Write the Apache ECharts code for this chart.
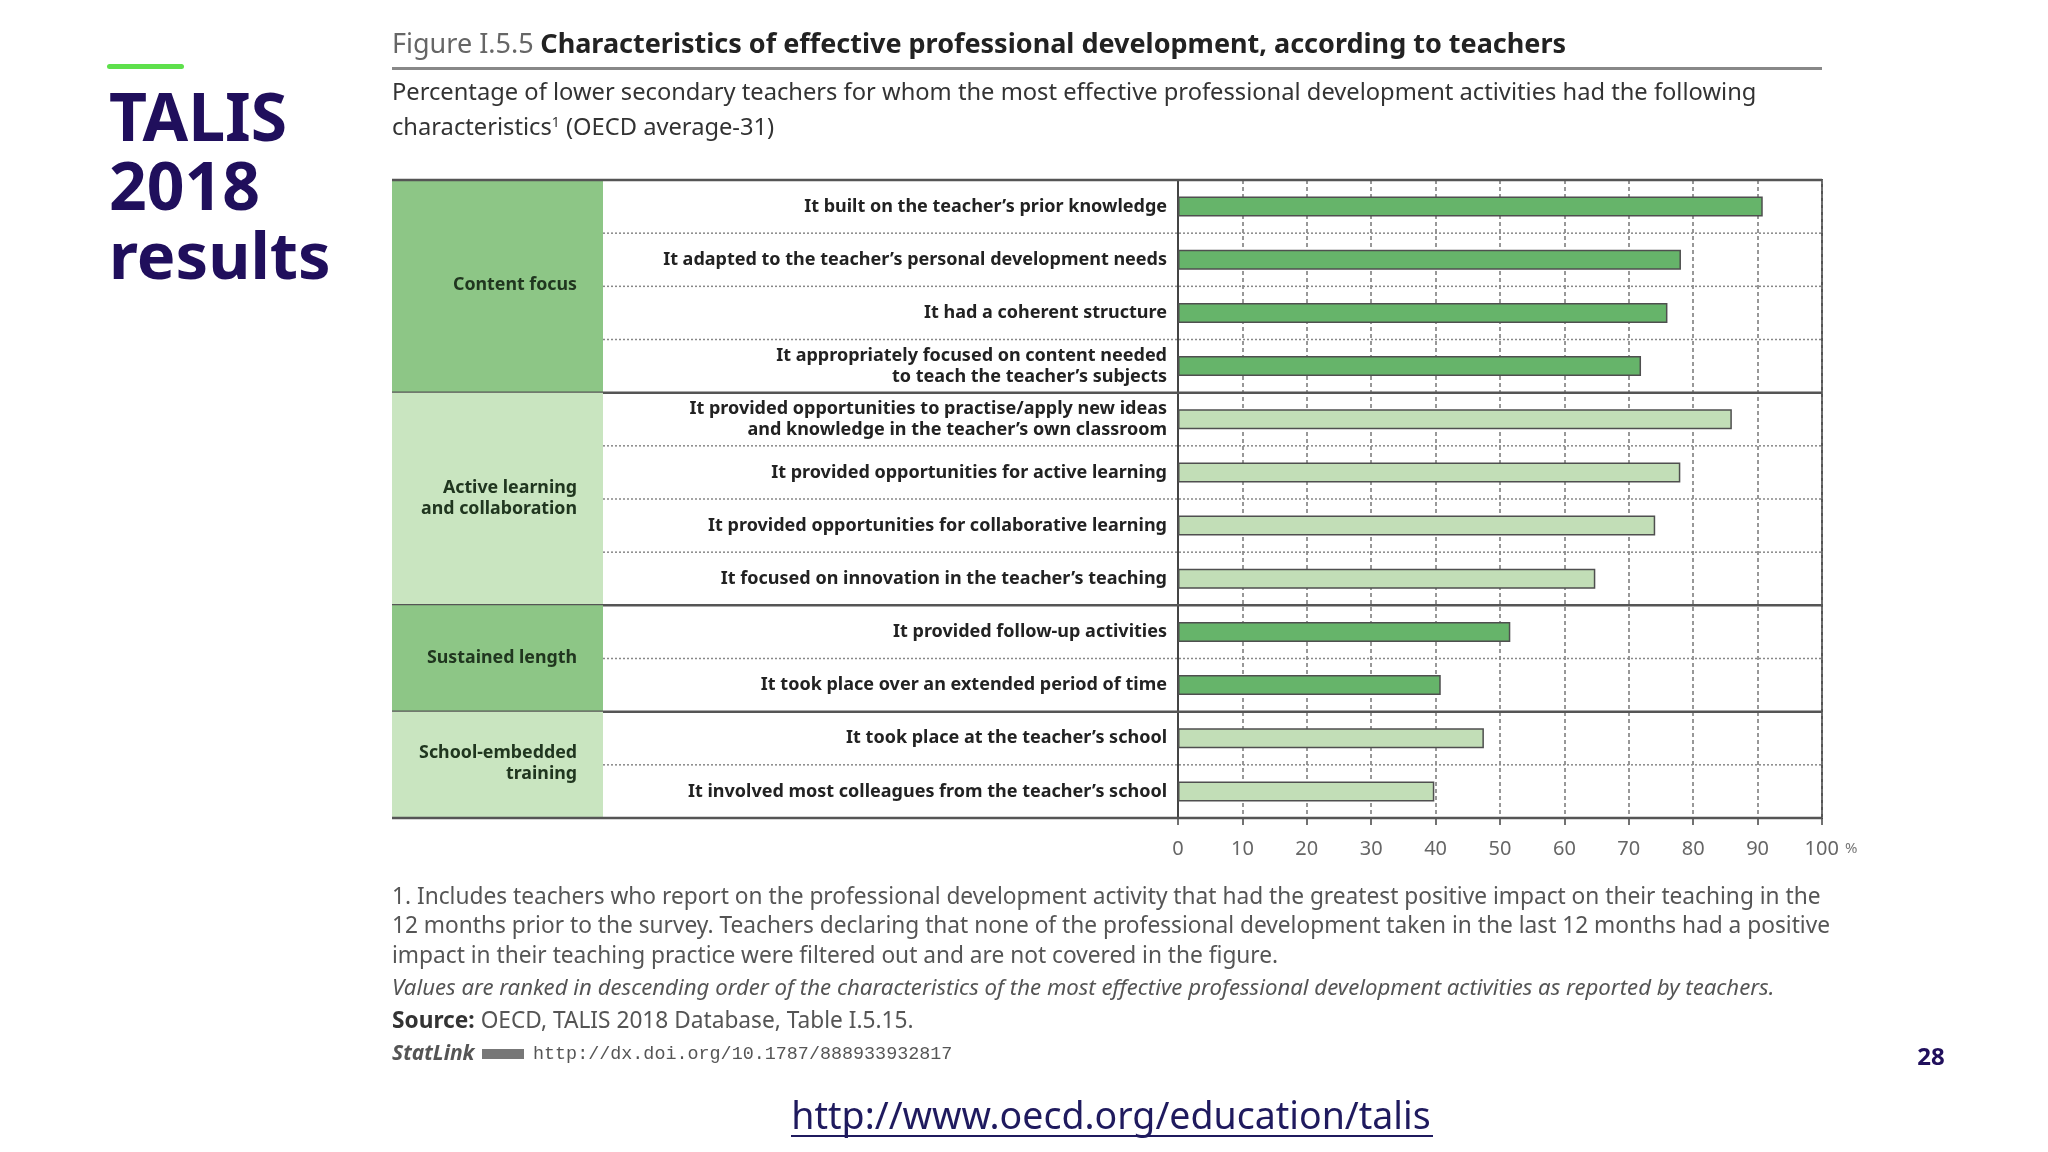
<!DOCTYPE html>
<html>
<head>
<meta charset="utf-8">
<script src="https://cdn.jsdelivr.net/npm/echarts@6/dist/echarts.min.js"></script>
<style>
html,body{margin:0;padding:0;background:#fff;}
#c{width:2048px;height:1152px;}
</style>
</head>
<body>
<div id="c"></div>
<script>
// ---- data ----
const categories = [
  'It built on the teacher’s prior knowledge',
  'It adapted to the teacher’s personal development needs',
  'It had a coherent structure',
  'It appropriately focused on content needed\nto teach the teacher’s subjects',
  'It provided opportunities to practise/apply new ideas\nand knowledge in the teacher’s own classroom',
  'It provided opportunities for active learning',
  'It provided opportunities for collaborative learning',
  'It focused on innovation in the teacher’s teaching',
  'It provided follow-up activities',
  'It took place over an extended period of time',
  'It took place at the teacher’s school',
  'It involved most colleagues from the teacher’s school'
];
const values = [90.8, 78.1, 76.0, 71.9, 86.0, 78.0, 74.1, 64.8, 51.6, 40.8, 47.5, 39.8];
const groupNames = ['Content focus', 'Active learning\nand collaboration', 'Sustained length', 'School-embedded\ntraining'];
const groupSizes = [4, 4, 2, 2];
const groupShades = ['dark', 'light', 'dark', 'light'];
const xTicks = [0, 10, 20, 30, 40, 50, 60, 70, 80, 90, 100];

// ---- styles ----
const FS = '"Noto Sans",sans-serif';
const panelColor = {dark: '#8dc686', light: '#c9e5c0'};
const barColor = {dark: '#66b46a', light: '#c2deb7'};
const labelColW = 575;
const panelW = 211;

const catShade = [];
groupSizes.forEach((n, i) => { for (let k = 0; k < n; k++) catShade.push(groupShades[i]); });
let st = 0;
const groupData = groupSizes.map((n, i) => { const d = [0, st, n, i]; st += n; return d; });

const chart = echarts.init(document.getElementById('c'), null, {renderer: 'canvas', width: 2048, height: 1152});

function renderGroup(params, api) {
  const start = api.value(1), n = api.value(2), gi = api.value(3);
  const band = api.size([0, 1])[1];
  const c0 = api.coord([0, start]);
  const x0 = c0[0];
  const x100 = api.coord([100, start])[0];
  const yTop = c0[1] - band / 2;
  const yBot = yTop + n * band;
  const panelX = x0 - labelColW - panelW;
  const children = [
    {type: 'rect', shape: {x: panelX, y: yTop, width: panelW, height: yBot - yTop},
      style: {fill: panelColor[groupShades[gi]]}},
    {type: 'text', style: {text: groupNames[gi], x: panelX + panelW - 26, y: (yTop + yBot) / 2 - 1,
      align: 'right', verticalAlign: 'middle', fontFamily: FS, fontSize: 17.8, fontWeight: 'bold',
      lineHeight: 21, fill: '#20361f'}},
    {type: 'line', shape: {x1: panelX, y1: yBot, x2: x100, y2: yBot},
      style: {stroke: '#555', lineWidth: 2.5}}
  ];
  if (start === 0) {
    children.push({type: 'line', shape: {x1: panelX, y1: yTop, x2: x100, y2: yTop},
      style: {stroke: '#555', lineWidth: 2.5}});
  }
  for (let k = 1; k < n; k++) {
    const y = yTop + k * band;
    children.push({type: 'line', shape: {x1: x0 - labelColW, y1: y, x2: x100, y2: y},
      style: {stroke: '#888', lineWidth: 1.5, lineDash: [2, 2]}});
  }
  return {type: 'group', children};
}

const option = {
  animation: false,
  backgroundColor: '#ffffff',
  grid: {left: 1178, right: 226, top: 180, bottom: 334, show: true, borderColor: '#555', borderWidth: 2},
  xAxis: {
    type: 'value', min: 0, max: 100, interval: 10,
    axisLine: {show: false},
    axisTick: {show: true, length: 7, lineStyle: {color: '#444', width: 1.5}},
    splitLine: {show: true, lineStyle: {color: '#777', width: 1.5, type: [4, 3]}},
    axisLabel: {
      margin: 21, color: '#666', fontFamily: FS, fontSize: 20,
      formatter: v => v === 100 ? '{n|100}{p|%}' : String(v),
      rich: {n: {fontFamily: FS, fontSize: 20, color: '#666', padding: [0, 0, 0, 18]},
             p: {fontFamily: FS, fontSize: 15, color: '#777', padding: [0, 0, 0, 6]}}
    }
  },
  yAxis: {
    type: 'category', data: categories, inverse: true,
    axisLine: {show: true, lineStyle: {color: '#444', width: 2}},
    axisTick: {show: false},
    splitLine: {show: false},
    axisLabel: {margin: 11, color: '#222', fontFamily: FS, fontSize: 18, fontWeight: 'bold',
      lineHeight: 21, align: 'right'}
  },
  series: [
    {type: 'custom', clip: false, z: 1, renderItem: renderGroup, encode: {x: 0, y: 1}, data: groupData, silent: true},
    {type: 'bar', z: 3, barWidth: 20,
      data: values.map((v, i) => ({value: v, itemStyle: {color: barColor[catShade[i]]}})),
      itemStyle: {borderColor: '#4f4f4f', borderWidth: 1.5}}
  ],
  graphic: [
    {type: 'rect', shape: {x: 107, y: 64, width: 77, height: 5, r: 2.5}, style: {fill: '#5ee04c'}},
    {type: 'text', x: 109, y: 122, style: {text: 'TALIS', fontFamily: FS, fontSize: 66, fontWeight: 'bold', fill: '#200f5c', verticalAlign: 'middle'}},
    {type: 'text', x: 109, y: 191, style: {text: '2018', fontFamily: FS, fontSize: 66, fontWeight: 'bold', fill: '#200f5c', verticalAlign: 'middle'}},
    {type: 'text', x: 109, y: 260, style: {text: 'results', fontFamily: FS, fontSize: 65, fontWeight: 'bold', fill: '#200f5c', verticalAlign: 'middle'}},

    {type: 'text', x: 392, y: 45.5, style: {
      text: '{a|Figure I.5.5}  {b|Characteristics of effective professional development, according to teachers}',
      verticalAlign: 'middle',
      rich: {a: {fontFamily: FS, fontSize: 27, fill: '#666', color: '#666'},
             b: {fontFamily: FS, fontSize: 27, fontWeight: 'bold', fill: '#222', color: '#222'}}}},
    {type: 'line', shape: {x1: 392, y1: 68.5, x2: 1822, y2: 68.5}, style: {stroke: '#888', lineWidth: 3}},
    {type: 'text', x: 392, y: 93.5, style: {text: 'Percentage of lower secondary teachers for whom the most effective professional development activities had the following',
      fontFamily: FS, fontSize: 23.7, fill: '#333', verticalAlign: 'middle'}},
    {type: 'text', x: 392, y: 128.5, style: {text: '{a|characteristics}{s|1}{a| (OECD average-31)}', verticalAlign: 'middle',
      rich: {a: {fontFamily: FS, fontSize: 23.7, fill: '#333', color: '#333'},
             s: {fontFamily: FS, fontSize: 14, fill: '#333', color: '#333', verticalAlign: 'top', padding: [0, 0, 10, 0]}}}},

    {type: 'text', x: 392, y: 897.5, style: {text: '1. Includes teachers who report on the professional development activity that had the greatest positive impact on their teaching in the',
      fontFamily: FS, fontSize: 22.7, fill: '#555', verticalAlign: 'middle'}},
    {type: 'text', x: 392, y: 926.5, style: {text: '12 months prior to the survey. Teachers declaring that none of the professional development taken in the last 12 months had a positive',
      fontFamily: FS, fontSize: 22.7, fill: '#555', verticalAlign: 'middle'}},
    {type: 'text', x: 392, y: 956.5, style: {text: 'impact in their teaching practice were filtered out and are not covered in the figure.',
      fontFamily: FS, fontSize: 22.7, fill: '#555', verticalAlign: 'middle'}},
    {type: 'text', x: 392, y: 989, style: {text: 'Values are ranked in descending order of the characteristics of the most effective professional development activities as reported by teachers.',
      fontFamily: FS, fontSize: 22.2, fontStyle: 'italic', fill: '#555', verticalAlign: 'middle'}},
    {type: 'text', x: 392, y: 1021.5, style: {text: '{b|Source:}{a| OECD, TALIS 2018 Database, Table I.5.15.}', verticalAlign: 'middle',
      rich: {a: {fontFamily: FS, fontSize: 22.7, fill: '#555', color: '#555'},
             b: {fontFamily: FS, fontSize: 22.7, fontWeight: 'bold', fill: '#333', color: '#333'}}}},
    {type: 'text', x: 392, y: 1054, style: {text: '{b|StatLink}', verticalAlign: 'middle',
      rich: {b: {fontFamily: FS, fontSize: 21, fontWeight: 'bold', fontStyle: 'italic', fill: '#555', color: '#555'}}}},
    {type: 'rect', shape: {x: 482, y: 1049, width: 42, height: 10}, style: {fill: '#777'}},
    {type: 'text', x: 533, y: 1054, style: {text: 'http://dx.doi.org/10.1787/888933932817',
      fontFamily: '"Liberation Mono","DejaVu Sans Mono",monospace', fontSize: 18.4, fill: '#555', verticalAlign: 'middle'}},

    {type: 'text', x: 1931, y: 1058, style: {text: '28', fontFamily: FS, fontSize: 24, fontWeight: 'bold', fill: '#200f5c', align: 'center', verticalAlign: 'middle'}},
    {type: 'text', x: 1111, y: 1118, style: {text: 'http://www.oecd.org/education/talis', fontFamily: FS, fontSize: 37.5, fill: '#1f1a5e', align: 'center', verticalAlign: 'middle'}},
    {type: 'line', shape: {x1: 791, y1: 1136, x2: 1433, y2: 1136}, style: {stroke: '#1f1a5e', lineWidth: 2}}
  ]
};
chart.setOption(option);
</script>
</body>
</html>
